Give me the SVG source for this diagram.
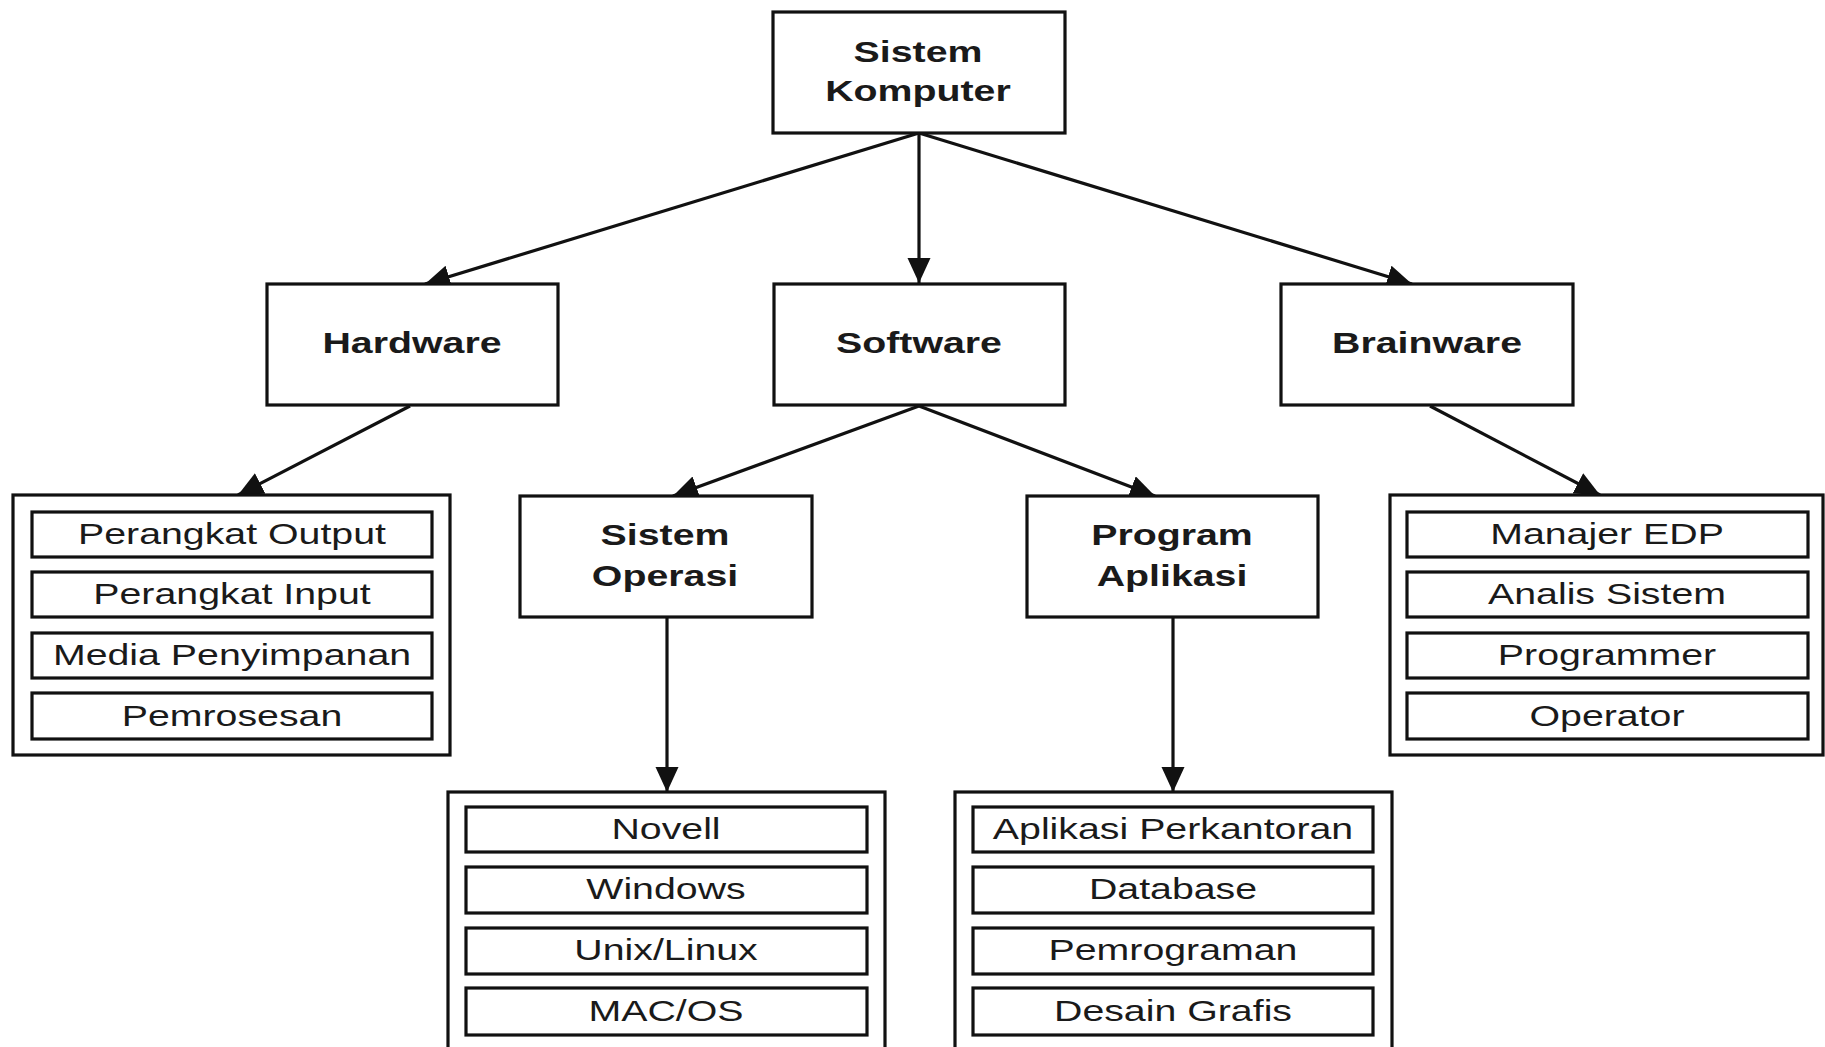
<svg xmlns="http://www.w3.org/2000/svg" width="1825" height="1047" viewBox="0 0 1825 1047">
<style>
  .box { fill: #fff; stroke: #111; stroke-width: 3.2; }
  .item { fill: #fff; stroke: #111; stroke-width: 3.2; }
  .conn { stroke: #111; stroke-width: 3.2; fill: none; }
  .tb { font-family: "Liberation Sans", Arial, sans-serif; font-weight: bold; font-size: 30px; fill: #1a1a1a; text-anchor: middle; }
  .tr { font-family: "Liberation Sans", Arial, sans-serif; font-size: 30px; fill: #1a1a1a; text-anchor: middle; }
</style>
<defs>
  <marker id="arr" markerUnits="userSpaceOnUse" markerWidth="26" markerHeight="24" refX="25" refY="11.5" orient="auto">
    <path d="M0,0 L25,11.5 L0,23 z" fill="#111"/>
  </marker>
</defs>
<rect width="1825" height="1047" fill="#fff"/>

<g id="connectors">
  <line class="conn" x1="919" y1="133" x2="425" y2="284" marker-end="url(#arr)"/>
  <line class="conn" x1="919" y1="133" x2="919" y2="283" marker-end="url(#arr)"/>
  <line class="conn" x1="919" y1="133" x2="1412" y2="284" marker-end="url(#arr)"/>
  <line class="conn" x1="410" y1="406" x2="238" y2="495" marker-end="url(#arr)"/>
  <line class="conn" x1="919" y1="406" x2="673" y2="496" marker-end="url(#arr)"/>
  <line class="conn" x1="919" y1="406" x2="1155" y2="496" marker-end="url(#arr)"/>
  <line class="conn" x1="1430" y1="406" x2="1600" y2="495" marker-end="url(#arr)"/>
  <line class="conn" x1="667" y1="617" x2="667" y2="792" marker-end="url(#arr)"/>
  <line class="conn" x1="1173" y1="617" x2="1173" y2="792" marker-end="url(#arr)"/>
</g>

<g id="sistem-komputer">
  <rect class="box" x="773" y="12" width="292" height="121"/>
  <text class="tb" transform="translate(918,62) scale(1.31,1)">Sistem</text>
  <text class="tb" transform="translate(918,101) scale(1.31,1)">Komputer</text>
</g>

<g id="hardware">
  <rect class="box" x="267" y="284" width="291" height="121"/>
  <text class="tb" transform="translate(412,353) scale(1.31,1)">Hardware</text>
</g>

<g id="software">
  <rect class="box" x="774" y="284" width="291" height="121"/>
  <text class="tb" transform="translate(919,353) scale(1.31,1)">Software</text>
</g>

<g id="brainware">
  <rect class="box" x="1281" y="284" width="292" height="121"/>
  <text class="tb" transform="translate(1427,353) scale(1.31,1)">Brainware</text>
</g>

<g id="sistem-operasi">
  <rect class="box" x="520" y="496" width="292" height="121"/>
  <text class="tb" transform="translate(665,545) scale(1.31,1)">Sistem</text>
  <text class="tb" transform="translate(665,586) scale(1.31,1)">Operasi</text>
</g>

<g id="program-aplikasi">
  <rect class="box" x="1027" y="496" width="291" height="121"/>
  <text class="tb" transform="translate(1172,545) scale(1.31,1)">Program</text>
  <text class="tb" transform="translate(1172,586) scale(1.31,1)">Aplikasi</text>
</g>

<g id="hardware-list">
  <rect class="box" x="13" y="495" width="437" height="260"/>
  <rect class="item" x="32" y="512" width="400" height="45"/>
  <text class="tr" transform="translate(232,544) scale(1.31,1)">Perangkat Output</text>
  <rect class="item" x="32" y="572" width="400" height="45"/>
  <text class="tr" transform="translate(232,604) scale(1.31,1)">Perangkat Input</text>
  <rect class="item" x="32" y="633" width="400" height="45"/>
  <text class="tr" transform="translate(232,665) scale(1.31,1)">Media Penyimpanan</text>
  <rect class="item" x="32" y="693" width="400" height="46"/>
  <text class="tr" transform="translate(232,726) scale(1.31,1)">Pemrosesan</text>
</g>

<g id="brainware-list">
  <rect class="box" x="1390" y="495" width="433" height="260"/>
  <rect class="item" x="1407" y="512" width="401" height="45"/>
  <text class="tr" transform="translate(1607,544) scale(1.31,1)">Manajer EDP</text>
  <rect class="item" x="1407" y="572" width="401" height="45"/>
  <text class="tr" transform="translate(1607,604) scale(1.31,1)">Analis Sistem</text>
  <rect class="item" x="1407" y="633" width="401" height="45"/>
  <text class="tr" transform="translate(1607,665) scale(1.31,1)">Programmer</text>
  <rect class="item" x="1407" y="693" width="401" height="46"/>
  <text class="tr" transform="translate(1607,726) scale(1.31,1)">Operator</text>
</g>

<g id="os-list">
  <rect class="box" x="448" y="792" width="437" height="270"/>
  <rect class="item" x="466" y="807" width="401" height="45"/>
  <text class="tr" transform="translate(666,839) scale(1.31,1)">Novell</text>
  <rect class="item" x="466" y="867" width="401" height="46"/>
  <text class="tr" transform="translate(666,899) scale(1.31,1)">Windows</text>
  <rect class="item" x="466" y="928" width="401" height="46"/>
  <text class="tr" transform="translate(666,960) scale(1.31,1)">Unix/Linux</text>
  <rect class="item" x="466" y="988" width="401" height="47"/>
  <text class="tr" transform="translate(666,1021) scale(1.31,1)">MAC/OS</text>
</g>

<g id="app-list">
  <rect class="box" x="955" y="792" width="437" height="270"/>
  <rect class="item" x="973" y="807" width="400" height="45"/>
  <text class="tr" transform="translate(1173,839) scale(1.31,1)">Aplikasi Perkantoran</text>
  <rect class="item" x="973" y="867" width="400" height="46"/>
  <text class="tr" transform="translate(1173,899) scale(1.31,1)">Database</text>
  <rect class="item" x="973" y="928" width="400" height="46"/>
  <text class="tr" transform="translate(1173,960) scale(1.31,1)">Pemrograman</text>
  <rect class="item" x="973" y="988" width="400" height="47"/>
  <text class="tr" transform="translate(1173,1021) scale(1.31,1)">Desain Grafis</text>
</g>
</svg>
